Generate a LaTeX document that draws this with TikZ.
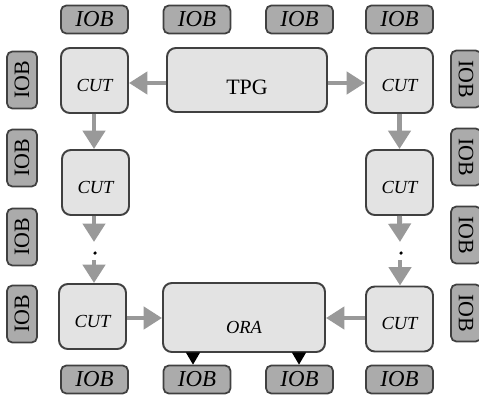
\documentclass[tikz,border=0pt]{standalone}
\usepackage{fontspec}
\setmainfont{Liberation Serif}
\usetikzlibrary{arrows.meta}

\begin{document}
\begin{tikzpicture}[x=0.02cm, y=-0.02cm,
    iob/.style={draw=black!75, line width=1pt, fill=black!33, rounded corners=3pt,
        minimum width=1.34cm, minimum height=0.56cm, inner sep=0pt,
        font=\fontsize{13}{13}\selectfont\itshape},
    iobleft/.style={draw=black!75, line width=1pt, fill=black!33, rounded corners=3pt,
        rotate=90, minimum width=1.14cm, minimum height=0.6cm, inner sep=0pt,
        font=\fontsize{12.5}{12.5}\selectfont},
    iobright/.style={draw=black!75, line width=1pt, fill=black!33, rounded corners=3pt,
        rotate=-90, minimum width=1.14cm, minimum height=0.6cm, inner sep=0pt,
        font=\fontsize{12.5}{12.5}\selectfont},
    cut/.style={draw=black!75, line width=1.1pt, fill=black!11, rounded corners=5pt,
        minimum width=1.34cm, minimum height=1.3cm, inner sep=0pt, text height=4.4mm,
        font=\fontsize{10.5}{10.5}\selectfont\itshape},
    flow/.style={-{Triangle[width=12.5pt,length=10.5pt]}, line width=2.8pt, black!40},
    result/.style={-{Triangle[width=8pt,length=7pt]}, line width=0.8pt, black}
]
    \useasboundingbox (0,0) rectangle (479,399);

    % Top IOB row
    \node[iob] (iobt1) at (94.5,19.5) {IOB};
    \node[iob] (iobt2) at (197,19.5) {IOB};
    \node[iob] (iobt3) at (299.5,19.5) {IOB};
    \node[iob] (iobt4) at (399.5,19.5) {IOB};

    % Bottom IOB row
    \node[iob] (iobb1) at (94.5,379.5) {IOB};
    \node[iob] (iobb2) at (197,379.5) {IOB};
    \node[iob] (iobb3) at (299.5,379.5) {IOB};
    \node[iob] (iobb4) at (399.5,379.5) {IOB};

    % Left IOB column
    \node[iobleft] (iobl1) at (22,80) {IOB};
    \node[iobleft] (iobl2) at (22,158) {IOB};
    \node[iobleft] (iobl3) at (22,237) {IOB};
    \node[iobleft] (iobl4) at (22,314) {IOB};

    % Right IOB column
    \node[iobright] (iobr1) at (466,79) {IOB};
    \node[iobright] (iobr2) at (466,157) {IOB};
    \node[iobright] (iobr3) at (466,235) {IOB};
    \node[iobright] (iobr4) at (466,313) {IOB};

    % Test pattern generator and response analyser
    \node[cut, minimum width=3.2cm, minimum height=1.28cm, text height=6mm,
        font=\fontsize{12.5}{12.5}\selectfont] (tpg) at (247,80) {TPG};
    \node[cut, minimum width=3.24cm, minimum height=1.38cm, text height=6.3mm] (ora) at (244,317.5) {ORA};

    % Circuits under test
    \node[cut] (cutl1) at (94.5,80.5) {CUT};
    \node[cut] (cutl2) at (95.5,182.5) {CUT};
    \node[cut] (cutl3) at (92.5,316.5) {CUT};
    \node[cut] (cutr1) at (399.5,80.5) {CUT};
    \node[cut] (cutr2) at (399.5,182.5) {CUT};
    \node[cut] (cutr3) at (399.5,319) {CUT};

    % Dots between the chains
    \coordinate (tipl) at (94,242);
    \coordinate (startl) at (94,260);
    \coordinate (tipr) at (400,242);
    \coordinate (startr) at (400,260);
    \node[circle, fill=black, inner sep=0pt, minimum size=2pt] (dotl) at (95,253) {};
    \node[circle, fill=black, inner sep=0pt, minimum size=2pt] (dotr) at (401,253) {};

    % Pattern flow
    \draw[flow] (tpg.west |- 0,83) -- (cutl1.east |- 0,83);
    \draw[flow] (tpg.east |- 0,83) -- (cutr1.west |- 0,83);
    \draw[flow] (cutl1.south -| 94,0) -- (cutl2.north -| 94,0);
    \draw[flow] (cutr1.south) -- (cutr2.north);
    \draw[flow] (cutl2.south -| 94,0) -- (tipl);
    \draw[flow] (cutr2.south) -- (tipr);
    \draw[flow] (startl) -- (cutl3.north -| startl);
    \draw[flow] (startr) -- (cutr3.north -| startr);
    \draw[flow] (cutl3.east |- 0,318) -- (ora.west |- 0,318);
    \draw[flow] (cutr3.west |- 0,318) -- (ora.east |- 0,318);

    % Results to the output blocks
    \draw[result] (ora.south -| 193,0) -- (iobb2.north -| 193,0);
    \draw[result] (ora.south -| 299,0) -- (iobb3.north -| 299,0);
\end{tikzpicture}
\end{document}
